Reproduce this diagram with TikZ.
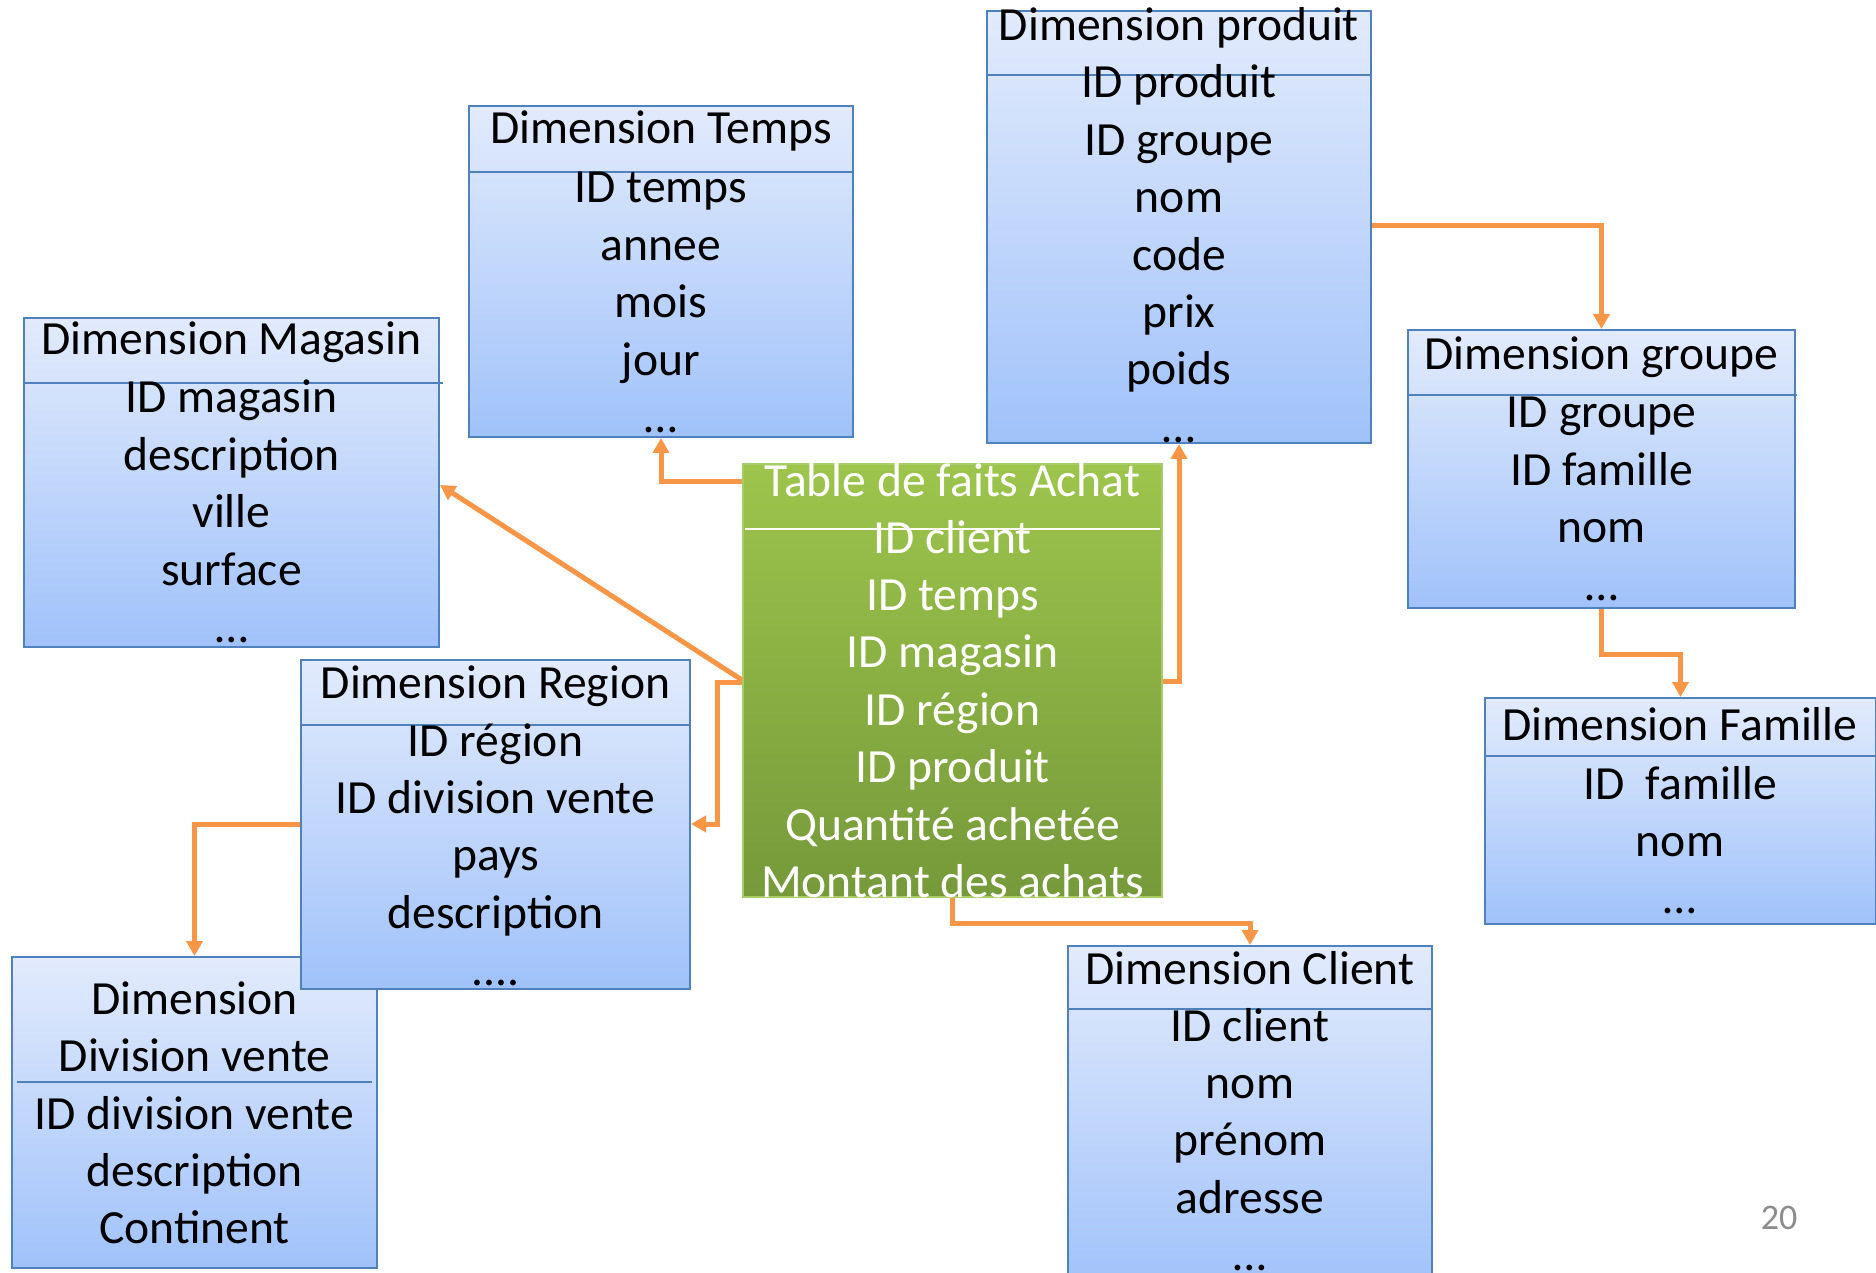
\documentclass[tikz,border=0pt]{standalone}
\usepackage{fontspec}
\setmainfont{Carlito}
\usetikzlibrary{arrows.meta,fit}
\definecolor{bordblue}{RGB}{79,129,189}
\definecolor{topblue}{RGB}{226,235,252}
\definecolor{botblue}{RGB}{160,194,250}
\definecolor{topgreen}{RGB}{157,197,76}
\definecolor{botgreen}{RGB}{118,153,58}
\definecolor{bordgreen}{RGB}{168,204,104}
\definecolor{connorange}{RGB}{247,150,70}
\definecolor{pagegray}{RGB}{140,140,140}
\tikzset{
  bluebox/.style={draw=bordblue, line width=1pt, inner sep=0pt, top color=topblue, bottom color=botblue},
  greenbox/.style={draw=bordgreen, line width=1pt, inner sep=0pt, top color=topgreen, bottom color=botgreen},
  hdrline/.style={draw=bordblue, line width=1pt},
  hdrwhite/.style={draw=white, line width=1pt},
  txt/.style={anchor=base, inner sep=0pt, font=\fontsize{23.8pt}{28.7pt}\selectfont},
  wtxt/.style={txt, text=white},
  conn/.style={draw=connorange, line width=2.5pt, -{Triangle[width=8pt,length=7.5pt]}},
}
\newcommand\fourdots{....}
\newcommand\threedots{…}
\newcommand\boxrows[5]{%
  \foreach \t [count=\i from 0] in {#4} \node[#5] (#1-\i) at (#2, #3+57.4*\i) {\t};}
\begin{document}
\begin{tikzpicture}[x=0.5pt, y=-0.5pt]
\useasboundingbox (0,0) rectangle (1876,1273);
\clip (0,0) rectangle (1876,1273);
\fill[white] (0,0) rectangle (1876,1273);

% boxes
\node[bluebox, fit={(469,106) (853,437)}] (temps) {};
\node[bluebox, fit={(987,11) (1371,443)}] (produit) {};
\node[bluebox, fit={(24,318) (439,647)}] (magasin) {};
\node[bluebox, fit={(1408,330) (1795,608)}] (groupe) {};
\node[bluebox, fit={(1485,698) (1876,924)}] (famille) {};
\node[bluebox, fit={(12,957) (377,1268)}] (division) {};
\node[bluebox, fit={(301,660) (690,989)}] (region) {};
\node[bluebox, fit={(1068,946) (1432,1290)}] (client) {};
\node[greenbox, fit={(743,464) (1162,897)}] (fact) {};

% header lines
\draw[hdrline] (temps.west |- 0,172) -- (temps.east |- 0,172);
\draw[hdrline] (produit.west |- 0,75) -- (produit.east |- 0,75);
\draw[hdrline] (magasin.west |- 0,383) -- (443,383);
\draw[hdrline] (groupe.west |- 0,395) -- (1797,395);
\draw[hdrline] (famille.west |- 0,756) -- (famille.east |- 0,756);
\draw[hdrline] (region.west |- 0,725) -- (region.east |- 0,725);
\draw[hdrline] (17,1082) -- (372,1082);
\draw[hdrline] (client.west |- 0,1009) -- (client.east |- 0,1009);
\draw[hdrwhite] (745,529) -- (1160,529);

% texts
\node[txt] (temps-t) at (661,144) {Dimension Temps};
\boxrows{temps}{661}{203}{ID temps, annee, mois, jour, \threedots}{txt}
\node[txt] (produit-t) at (1179,41) {Dimension produit};
\boxrows{produit}{1179}{98}{ID produit, ID groupe, nom, code, prix, poids, \threedots}{txt}
\node[txt] (magasin-t) at (231.5,355) {Dimension Magasin};
\boxrows{magasin}{231.5}{413}{ID magasin, description, ville, surface, \threedots}{txt}
\node[txt] (groupe-t) at (1601.5,370) {Dimension groupe};
\boxrows{groupe}{1601.5}{428}{ID groupe, ID famille, nom, \threedots}{txt}
\node[txt] (famille-t) at (1680,740) {Dimension Famille};
\boxrows{famille}{1680}{799}{ID\ \ famille, nom, \threedots}{txt}
\node[txt] (region-t) at (495.5,698) {Dimension Region};
\boxrows{region}{495.5}{756}{ID région, ID division vente, pays, description, \fourdots}{txt}
\node[txt] (division-t1) at (194.5,1014) {Dimension};
\node[txt] (division-t2) at (194.5,1071) {Division vente};
\boxrows{division}{194.5}{1129}{ID division vente, description, Continent}{txt}
\node[txt] (client-t) at (1250,984) {Dimension Client};
\boxrows{client}{1250}{1041}{ID client, nom, prénom, adresse, \threedots}{txt}
\node[wtxt] (fact-t) at (952.5,496) {Table de faits Achat};
\boxrows{fact}{952.5}{553}{ID client, ID temps, ID magasin, ID région, ID produit, Quantité achetée, Montant des achats}{wtxt}

% connectors
\draw[conn] (fact.west |- 0,482) -| (temps.south);
\draw[conn] (fact.west |- 0,680) -- (magasin.east |- 0,485);
\coordinate (elbowR) at (717,682);
\draw[conn] (fact.west |- 0,682) -- (elbowR) |- (region.east |- 0,824);
\draw[conn] (fact.east |- 0,681) -| (produit.south);
\draw[conn] (fact.south) -- ++(0,25) -| (client.north);
\draw[conn] (produit.east |- 0,226) -| (groupe.north);
\draw[conn] (groupe.south) -- ++(0,45) -| (famille.north);
\draw[conn] (region.west |- 0,824) -| (division.north);

% page number
\node[anchor=base, inner sep=0pt, text=pagegray, font=\fontsize{18pt}{20pt}\selectfont] (pagenum) at (1779,1229) {20};
\end{tikzpicture}
\end{document}
